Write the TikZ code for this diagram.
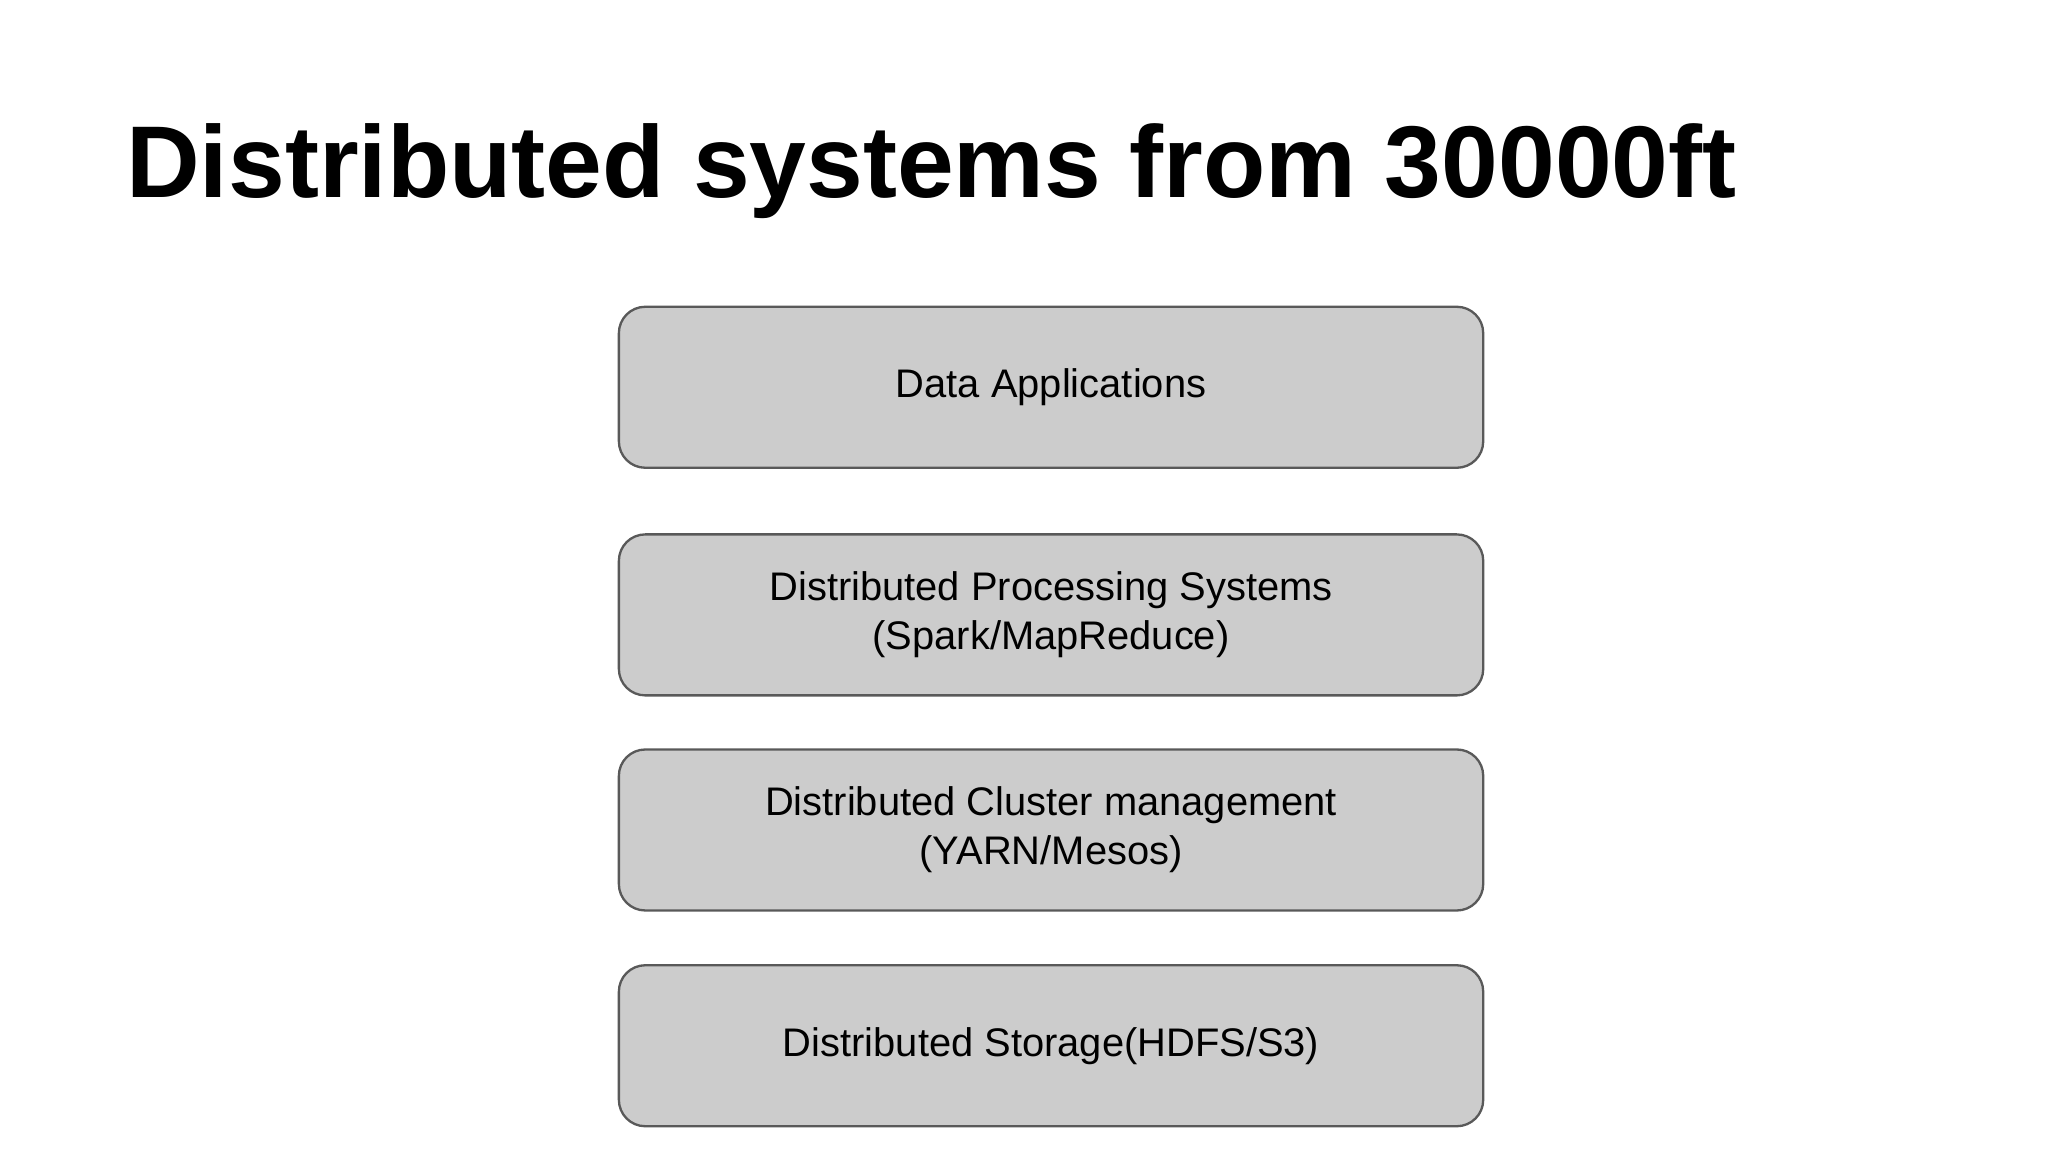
\documentclass[tikz,border=0pt]{standalone}
\usepackage{fontspec}
\setmainfont{Liberation Sans}
\usetikzlibrary{positioning}
\definecolor{layerfill}{HTML}{CCCCCC}
\definecolor{layerline}{HTML}{595959}
\tikzset{
  layer/.style = {draw = layerline, fill = layerfill, rounded corners = 0.2cm,
    minimum width = 6.55cm, minimum height = 1.22cm, align = center,
    font = \fontsize{8.6}{10.6}\selectfont, line width = 0.5pt}
}
\begin{document}
\begin{tikzpicture}
\useasboundingbox (0, 0) rectangle (15.52, 8.73);

\node [anchor = base west, inner sep = 0pt, font = \fontsize{22}{26}\selectfont\bfseries] (title) at (0.95, 7.23) {Distributed systems from 30000ft};

\node [layer] (apps) at (7.965, 5.795) {Data Applications};
\node [layer] (proc) at (7.965, 4.07) {Distributed Processing Systems\\(Spark/MapReduce)};
\node [layer] (cluster) at (7.965, 2.44) {Distributed Cluster management\\(YARN/Mesos)};
\node [layer] (storage) at (7.965, 0.805) {Distributed Storage(HDFS/S3)};
\end{tikzpicture}
\end{document}
